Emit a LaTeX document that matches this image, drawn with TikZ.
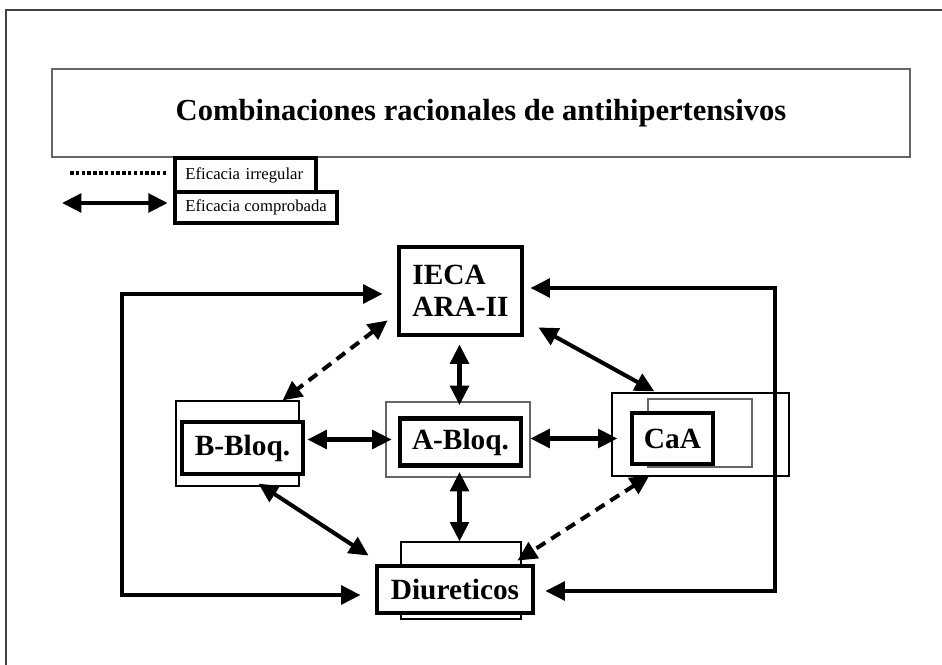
\documentclass[tikz,border=0pt]{standalone}
\usepackage{fontspec}
\setmainfont{Liberation Serif}
\usetikzlibrary{arrows.meta,calc}
\begin{document}
\begin{tikzpicture}[
        x=0.02cm,
        y=-0.02cm,
        every node/.style={
                font=\bfseries\fontsize{16.7}{18.5}\selectfont
            }
    ]
    \tikzset  {
        drugnode/.style = {rectangle, draw=black, line width=2.8pt, fill=white, inner sep=0pt},
        backnode/.style = {rectangle, draw=#1, line width=0.7pt, inner sep=0pt},
        backnode/.default = black,
        legendnode/.style = {rectangle, draw=black, line width=2.2pt, fill=white, anchor=west, inner xsep=6pt, inner ysep=0pt, font=\fontsize{9.5}{11}\selectfont},
        biarrow/.style = {line width=2.3pt, {Triangle[length=11pt,width=10.5pt]}-{Triangle[length=11pt,width=10.5pt]}},
        irregarrow/.style = {biarrow, dash pattern=on 6pt off 4pt},
    }
    \useasboundingbox (0,0) rectangle (942,665);
    \draw [line width=1.1pt, black!75] (6,700) -- (6,10) -- (960,10);
    \node [rectangle, draw=black!60, line width=0.7pt, minimum width=17.16cm, minimum height=1.76cm, font=\bfseries\fontsize{17.4}{20}\selectfont] (title) at (481,113) {Combinaciones racionales de antihipertensivos};
    \node [legendnode, minimum height=0.68cm, text width=2.4cm, align=left] (legirreg) at (173,175) {Eficacia irregular};
    \node [legendnode, minimum height=0.62cm] (legcomp) at (173,207.5) {Eficacia comprobada};
    \coordinate (dotstart) at (70,173);
    \coordinate (arrowstart) at (62,203);
    \draw [line width=2.3pt, dash pattern=on 2pt off 1.3pt, shorten >=3pt] (dotstart) -- (dotstart -| legirreg.west);
    \draw [biarrow, shorten >=3pt] (arrowstart) -- (arrowstart -| legcomp.west);
    \node [drugnode, minimum width=2.46cm, minimum height=1.76cm, align=left] (ieca) at (460.5,291) {IECA\\ARA-II};
    \node [backnode, minimum width=2.46cm, minimum height=1.7cm] (bbloqback) at (237.5,443.5) {};
    \node [drugnode, minimum width=2.42cm, minimum height=1.04cm] (bbloq) at (242.5,448) {B-Bloq.};
    \node [backnode=black!60, minimum width=2.88cm, minimum height=1.5cm] (abloqback) at (458,439.5) {};
    \node [drugnode, minimum width=2.42cm, minimum height=0.94cm] (abloq) at (460.5,442) {A-Bloq.};
    \node [backnode, minimum width=3.54cm, minimum height=1.66cm] (caaouter) at (700.5,434.5) {};
    \node [backnode=black!60, minimum width=2.08cm, minimum height=1.36cm] (caaback) at (700,433) {};
    \node [drugnode, minimum width=1.62cm, minimum height=1.02cm] (caa) at (672.5,438.5) {CaA};
    \node [backnode, minimum width=2.4cm, minimum height=1.54cm] (diurback) at (461,580.5) {};
    \node [drugnode, minimum width=3.12cm, minimum height=0.94cm] (diur) at (455,589.5) {Diureticos};
    \coordinate (leftturn) at (122,445);
    \coordinate (rightturn) at (775,445);
    \draw [biarrow] ($(ieca.west)+(-14,3)$) -| (leftturn) |- ($(diur.west)+(-14,5.5)$);
    \draw [biarrow] ($(ieca.east)+(6,-3)$) -| (rightturn) |- ($(diur.east)+(10,1.5)$);
    \draw [biarrow] ($(ieca.south)+(-1,7)$) -- ($(abloq.north)+(-1,-11)$);
    \draw [biarrow] ($(abloq.south)+(-1,4)$) -- ($(abloq.south |- diurback.north)+(-1,0)$);
    \draw [biarrow] ($(bbloq.east |- abloqback.west)+(2,0)$) -- ($(abloq.west |- abloqback.west)+(-6,0)$);
    \draw [biarrow] ($(abloq.east |- abloqback.west)+(7,-1)$) -- ($(caaouter.west |- abloqback.west)+(6,-1)$);
    \draw [biarrow] ($(ieca.south east)+(14,-10)$) -- ($(caaouter.north west)+(43,-1)$);
    \draw [biarrow] ($(bbloqback.south)+(21,-3)$) -- ($(diur.north west)+(-6,-8)$);
    \draw [irregarrow] ($(ieca.south west)+(-9,-17)$) -- ($(bbloqback.north east)+(-17,0)$);
    \draw [irregarrow] ($(caaouter.south west)+(38,-1)$) -- ($(diur.north east)+(-18,-3)$);
\end{tikzpicture}
\end{document}
